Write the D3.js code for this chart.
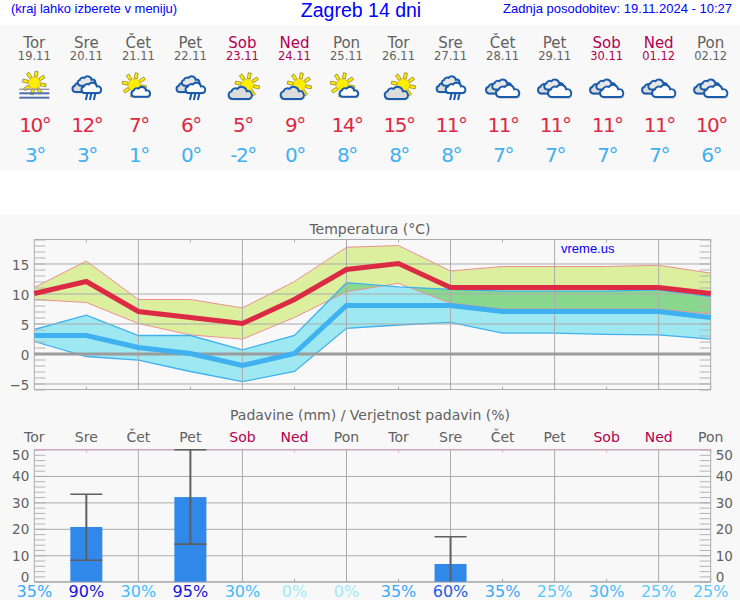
<!DOCTYPE html>
<html><head><meta charset="utf-8">
<script src="https://cdn.jsdelivr.net/npm/d3@7"></script>
<style>html,body{margin:0;padding:0;background:#fff}svg{display:block}
text{font-family:"DejaVu Sans",sans-serif}.h{font-family:"Liberation Sans",Arial,sans-serif;fill:#0000ff}
.domain{display:none}</style></head><body><svg id="c" width="740" height="600"></svg>
<script>
const days=["Tor","Sre","Čet","Pet","Sob","Ned","Pon","Tor","Sre","Čet","Pet","Sob","Ned","Pon"];
const dates=["19.11","20.11","21.11","22.11","23.11","24.11","25.11","26.11","27.11","28.11","29.11","30.11","01.12","02.12"];
const icons=["fog","rain","suncloud","rain","cloudsun","cloudsun","suncloud","cloudsun","rain","cloud","cloud","cloud","cloud","cloud"];
const tMax=[10,12,7,6,5,9,14,15,11,11,11,11,11,10];
const tMin=[3,3,1,0,-2,0,8,8,8,7,7,7,7,6];
const maxHi=[11,15.4,9,9,7.6,12,17.7,18,13.75,14.5,14.5,14.5,14.7,13.4];
const maxLo=[9,8.5,5,3.1,2.4,6,10.3,11.7,8.4,7.4,7.4,7.4,7.4,6.6];
const minHi=[4,6.4,3,3,0.6,3,11.8,11.1,10.7,10.4,10.4,10.4,10.6,9.5];
const minLo=[2,-0.5,-1.1,-3,-4.7,-3,4.2,4.75,5.2,3.4,3.4,3.2,3.1,2.4];
const precip=[0,20.7,0,32,0,0,0,0,6.7,0,0,0,0,0];
const precipLow=[null,8.1,null,14.2,null,null,null,null,0,null,null,null,null,null];
const precipHigh=[null,33.1,null,49.9,null,null,null,null,17,null,null,null,null,null];
const prob=[35,90,30,95,30,0,0,35,60,35,25,30,25,25];
const tempTicks=[-5,0,5,10,15];
const rainTicks=[0,10,20,30,40,50];
const title="Zagreb 14 dni", note="(kraj lahko izberete v meniju)", updated="Zadnja posodobitev: 19.11.2024 - 10:27";

const svg=d3.select("#c");
const GRAY="#616161", WEEK="#b0004f", GRID="#ababab", BG="#f8f8f8";
const dayColor=d=>(d==="Sob"||d==="Ned")?WEEK:GRAY;
const idx=d3.range(days.length);
const x=d3.scalePoint().domain(idx).range([34.3,710.7]);
const yT=d3.scaleLinear().domain([-6,19]).range([389.5,239.5]);
const yR=d3.scaleLinear().domain([0,50]).range([581.7,449.5]);

svg.append("rect").attr("x",0).attr("y",25).attr("width",740).attr("height",145).attr("fill",BG);
svg.append("rect").attr("x",0).attr("y",215).attr("width",740).attr("height",385).attr("fill",BG);

// header
svg.append("text").attr("class","h").attr("x",11).attr("y",13).attr("font-size",13).text(note);
svg.append("text").attr("class","h").attr("x",361).attr("y",17).attr("text-anchor","middle").attr("font-size",19.5).text(title);
svg.append("text").attr("class","h").attr("x",732).attr("y",13).attr("text-anchor","end").attr("font-size",13).text(updated);

// forecast table
const T=svg.append("g");
T.selectAll(".d").data(idx).join("text").attr("x",i=>x(i)).attr("y",48).attr("text-anchor","middle").attr("font-size",15).attr("fill",i=>dayColor(days[i])).text(i=>days[i]);
T.selectAll(".dt").data(idx).join("text").attr("x",i=>x(i)).attr("y",60).attr("text-anchor","middle").attr("font-size",11.5).attr("fill",i=>dayColor(days[i])).text(i=>dates[i]);
T.selectAll(".mx").data(idx).join("text").attr("x",i=>x(i)+0.5).attr("y",132.3).attr("text-anchor","middle").attr("font-size",20).attr("letter-spacing",-1.5).attr("fill","#dc2a44").text(i=>tMax[i]+"°");
T.selectAll(".mn").data(idx).join("text").attr("x",i=>x(i)+0.5).attr("y",162).attr("text-anchor","middle").attr("font-size",20).attr("letter-spacing",-1.5).attr("fill","#3fb0f0").text(i=>tMin[i]+"°");

// icons
const CL="M-10,6A4.6,4.6 0 0 1-11.5,-3A5,5 0 0 1-4.5,-6A6.2,6.2 0 0 1 6.5,-3.2A4.7,4.7 0 0 1 9,6Z";
function cloud(g,cx,cy,s,fill,sh){
  const c=g.append("g").attr("transform",`translate(${cx},${cy}) scale(${s})`);
  if(sh) c.append("path").attr("d",CL).attr("transform",`translate(${0.8/s},${1.3/s})`).attr("fill","#b5b5b5");
  c.append("path").attr("d",CL).attr("fill",fill).attr("stroke","#1a5cab").attr("stroke-width",2/s);
}
function sun(g,cx,cy,r){
  const c=g.append("g").attr("transform",`translate(${cx},${cy})`);
  d3.range(8).forEach(k=>{const a=k*Math.PI/4+0.2;
    const l=c.append("g").attr("transform",`rotate(${a*180/Math.PI})`);
    l.append("rect").attr("x",r+0.5).attr("y",-1.5).attr("width",r*0.95).attr("height",3).attr("fill","#ffee00").attr("stroke","#7a6a20").attr("stroke-width",0.6);
  });
  c.append("circle").attr("r",r).attr("fill","#ffee00").attr("stroke","#e0b000").attr("stroke-width",0.6);
}
function rainDrops(g,cx,cy){
  [-4,0,4].forEach(d=>g.append("line").attr("x1",cx+d+1).attr("x2",cx+d-0.5).attr("y1",cy).attr("y2",cy+6.5).attr("stroke","#1a5cab").attr("stroke-width",2));
}
const iconDraw={
  fog(g){sun(g,0,-4,5.8);[2.3,6.3,10.7].forEach((d,k)=>g.append("line").attr("x1",-15).attr("x2",15).attr("y1",d).attr("y2",d).attr("stroke",k===0?"#8f90a8":"#4f73ab").attr("stroke-width",k===0?1.3:2));},
  rain(g){cloud(g,-3.5,0.8,0.7,"#dcdcdc",true);cloud(g,1,-5.2,0.65,"#e6e6e6",false);cloud(g,5.8,1.7,0.72,"#fff",true);rainDrops(g,4,6.5);},
  suncloud(g){sun(g,-4,-2,6);cloud(g,3.2,5.6,0.68,"#fff",true);},
  cloudsun(g){sun(g,5,-2,6);cloud(g,-1.2,6.9,0.85,"#dcdcdc",true);},
  cloud(g){cloud(g,-5.5,2,0.75,"#dcdcdc",true);cloud(g,0,-1.6,0.7,"#e8e8e8",false);cloud(g,6,5,0.85,"#fff",true);}
};
idx.forEach(i=>iconDraw[icons[i]](svg.append("g").attr("transform",`translate(${x(i)},87)`)));

// ---- temperature chart
const P=svg.append("g");
P.append("text").attr("x",370).attr("y",234).attr("text-anchor","middle").attr("font-size",14).attr("fill",GRAY).text("Temperatura (°C)");
const bandMax=d3.area().x(i=>x(i)).y0(i=>yT(maxLo[i])).y1(i=>yT(maxHi[i]));
const bandMin=d3.area().x(i=>x(i)).y0(i=>yT(minLo[i])).y1(i=>yT(minHi[i]));
svg.append("defs").append("clipPath").attr("id","ov").append("path").attr("d",bandMax(idx));
P.append("path").attr("d",bandMax(idx)).attr("fill","#dbef9f");
P.append("path").attr("d",bandMin(idx)).attr("fill","#9de8f1");
P.append("path").attr("d",bandMin(idx)).attr("fill","#88d88e").attr("clip-path","url(#ov)");
const line=(arr,s)=>d3.line().x(i=>x(i)).y(i=>s(arr[i]))(idx);
[maxHi,maxLo].forEach(a=>P.append("path").attr("d",line(a,yT)).attr("fill","none").attr("stroke","#ee9090").attr("stroke-width",1));
[minHi,minLo].forEach(a=>P.append("path").attr("d",line(a,yT)).attr("fill","none").attr("stroke","#3fb0f0").attr("stroke-width",1.3));

function grid(group,scale,ticks,minor,topColor){
  const L=x.range()[0],R=x.range()[1],Y0=scale.range()[0],Y1=scale.range()[1];
  group.append("g").attr("transform",`translate(${L},0)`).call(d3.axisRight(scale).tickValues(minor).tickSize(11).tickFormat("")).selectAll("line").attr("stroke","#b4b4b4");
  group.append("g").attr("transform",`translate(${R},0)`).call(d3.axisLeft(scale).tickValues(minor).tickSize(11).tickFormat("")).selectAll("line").attr("stroke","#b4b4b4");
  const a=group.append("g").attr("transform",`translate(${L},0)`).call(d3.axisLeft(scale).tickValues(ticks).tickSize(-(R-L)).tickPadding(5));
  a.selectAll("line").attr("stroke",GRID);
  a.selectAll("text").attr("font-size",13.5).attr("fill",GRAY).attr("font-family",'"DejaVu Sans"');
  const even=idx.filter(i=>i%2===0&&i>0), odd=idx.filter(i=>i%2===1);
  const vg=group.append("g");
  vg.selectAll(".v").data(even).join("line").attr("x1",i=>x(i)).attr("x2",i=>x(i)).attr("y1",Y0).attr("y2",Y1).attr("stroke",GRID);
  vg.selectAll(".tb").data(odd).join("line").attr("x1",i=>x(i)).attr("x2",i=>x(i)).attr("y1",Y0).attr("y2",Y0-3).attr("stroke",GRID);
  vg.selectAll(".tt").data(odd).join("line").attr("x1",i=>x(i)).attr("x2",i=>x(i)).attr("y1",Y1).attr("y2",Y1+3).attr("stroke",topColor);
  group.append("line").attr("x1",L).attr("x2",L).attr("y1",Y0).attr("y2",Y1).attr("stroke",GRID);
  group.append("line").attr("x1",R).attr("x2",R).attr("y1",Y0).attr("y2",Y1).attr("stroke",GRID);
  group.append("line").attr("x1",L).attr("x2",R).attr("y1",Y0).attr("y2",Y0).attr("stroke",GRID);
  group.append("line").attr("x1",L).attr("x2",R).attr("y1",Y1).attr("y2",Y1).attr("stroke",topColor);
}
const pg=P.append("g");
grid(pg,yT,tempTicks,d3.range(-6,20),GRID);
pg.selectAll("text").attr("transform",d=>`translate(0,${d===-5?2:1.5})`);
P.append("line").attr("x1",x.range()[0]).attr("x2",x.range()[1]).attr("y1",yT(0)+0.5).attr("y2",yT(0)+0.5).attr("stroke","#9c9c9c").attr("stroke-width",3);
P.append("path").attr("d",line(tMin,yT)).attr("fill","none").attr("stroke","#3fb0f0").attr("stroke-width",5);
P.append("path").attr("d",line(tMax,yT)).attr("fill","none").attr("stroke","#dc2a44").attr("stroke-width",5);
P.append("text").attr("class","h").attr("x",561).attr("y",253).attr("font-size",13).text("vreme.us");

// ---- precipitation chart
const Q=svg.append("g");
Q.append("text").attr("x",370).attr("y",420).attr("text-anchor","middle").attr("font-size",14).attr("fill",GRAY).text("Padavine (mm) / Verjetnost padavin (%)");
Q.selectAll(".dl").data(idx).join("text").attr("x",i=>x(i)).attr("y",442).attr("text-anchor","middle").attr("font-size",14).attr("fill",i=>dayColor(days[i])).text(i=>days[i]);
const gg=Q.append("g");
grid(gg,yR,rainTicks,d3.range(0,51,2),"#e3a3c0");
const shift=v=>v===0?-4.5:v===50?5.5:0.5;
gg.selectAll("text").attr("transform",d=>`translate(0,${shift(d)})`);
const ra=Q.append("g").attr("transform",`translate(${x.range()[1]},0)`).call(d3.axisRight(yR).tickValues(rainTicks).tickSize(0).tickPadding(5));
ra.selectAll("text").attr("font-size",13.5).attr("fill",GRAY).attr("font-family",'"DejaVu Sans"').attr("transform",d=>`translate(0,${shift(d)})`);
const bw=32;
const wet=idx.filter(i=>precip[i]>0);
Q.selectAll(".b").data(wet).join("rect").attr("x",i=>x(i)-bw/2).attr("width",bw).attr("y",i=>yR(precip[i])).attr("height",i=>yR(0)-yR(precip[i])).attr("fill","#3088e8");
Q.selectAll(".s").data(wet).join("line").attr("x1",i=>x(i)).attr("x2",i=>x(i)).attr("y1",i=>yR(precipLow[i])).attr("y2",i=>yR(precipHigh[i])).attr("stroke","#5f5f5f").attr("stroke-width",2);
[precipLow,precipHigh].forEach(a=>Q.selectAll(".c").data(wet.filter(i=>a[i]>0),i=>i).enter().append("line").attr("x1",i=>x(i)-bw/2).attr("x2",i=>x(i)+bw/2).attr("y1",i=>yR(a[i])).attr("y2",i=>yR(a[i])).attr("stroke","#5f5f5f").attr("stroke-width",1.6));
const probColor=d3.scaleThreshold().domain([1,26,31,36,61,91]).range(["#a0e8fa","#58c8fa","#40bcfa","#38a8f8","#2060e0","#1414d8","#1414d8"]);
Q.selectAll(".p").data(idx).join("text").attr("x",i=>x(i)).attr("y",597).attr("text-anchor","middle").attr("font-size",16).attr("fill",i=>probColor(prob[i])).text(i=>prob[i]+"%");
</script></body></html>
